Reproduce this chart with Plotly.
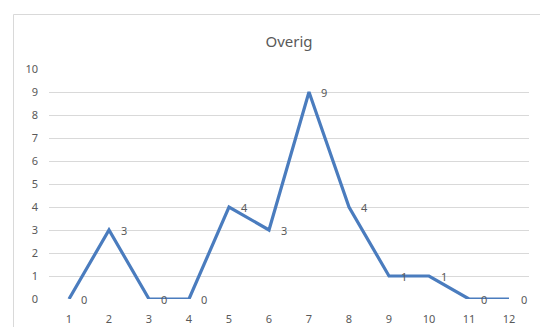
import plotly.graph_objects as go

# Monthly counts for the "Overig" category
categories = [1, 2, 3, 4, 5, 6, 7, 8, 9, 10, 11, 12]
values = [0, 3, 0, 0, 4, 3, 9, 4, 1, 1, 0, 0]
y_ticks = [0, 1, 2, 3, 4, 5, 6, 7, 8, 9, 10]

font_family = "Noto Sans"
text_gray = "#595959"
grid_gray = "#d9d9d9"

fig = go.Figure()
fig.add_trace(go.Scatter(
    x=categories, y=values, mode="lines",
    line=dict(color="#4A7CBE", width=3.2),
    hoverinfo="x+y", showlegend=False,
))

# Value labels placed to the right of each point
for c, v in zip(categories, values):
    fig.add_annotation(
        x=c, y=v, text=str(v), showarrow=False,
        xanchor="left", yanchor="middle", xshift=10,
        font=dict(family=font_family, size=11, color=text_gray),
    )

W, H = 540, 327
L, R, T, B = 49, 11, 69, 28
pw, ph = W - L - R, H - T - B

def px_x(x):
    return (x - L) / pw

def px_y(y):
    return (H - B - y) / ph

# Chart area border
fig.add_shape(
    type="rect", xref="paper", yref="paper",
    x0=px_x(13.5), x1=px_x(560), y0=px_y(14.5), y1=px_y(340),
    line=dict(color=grid_gray, width=1), fillcolor="rgba(0,0,0,0)",
    layer="below",
)

fig.update_layout(
    width=W, height=H,
    margin=dict(l=L, r=R, t=T, b=B, autoexpand=False),
    paper_bgcolor="white", plot_bgcolor="white",
    title=dict(
        text="Overig", x=0.5, xref="paper", xanchor="center",
        y=(H - 42) / H, yref="container", yanchor="middle",
        font=dict(family=font_family, size=15, color=text_gray),
    ),
    xaxis=dict(
        range=[0.5, 12.5], tickmode="array", tickvals=categories,
        ticktext=[str(c) for c in categories],
        showgrid=False, zeroline=False, showline=False, ticks="",
        ticklabelstandoff=12, automargin=False,
        tickfont=dict(family=font_family, size=11, color=text_gray),
        fixedrange=True,
    ),
    yaxis=dict(
        range=[0, 10], tickmode="array", tickvals=y_ticks,
        showgrid=True, gridcolor=grid_gray, gridwidth=1,
        zeroline=False, showline=False, ticks="", ticklabelstandoff=10,
        automargin=False,
        tickfont=dict(family=font_family, size=11, color=text_gray),
        fixedrange=True,
    ),
)

fig.write_html("out.html")
